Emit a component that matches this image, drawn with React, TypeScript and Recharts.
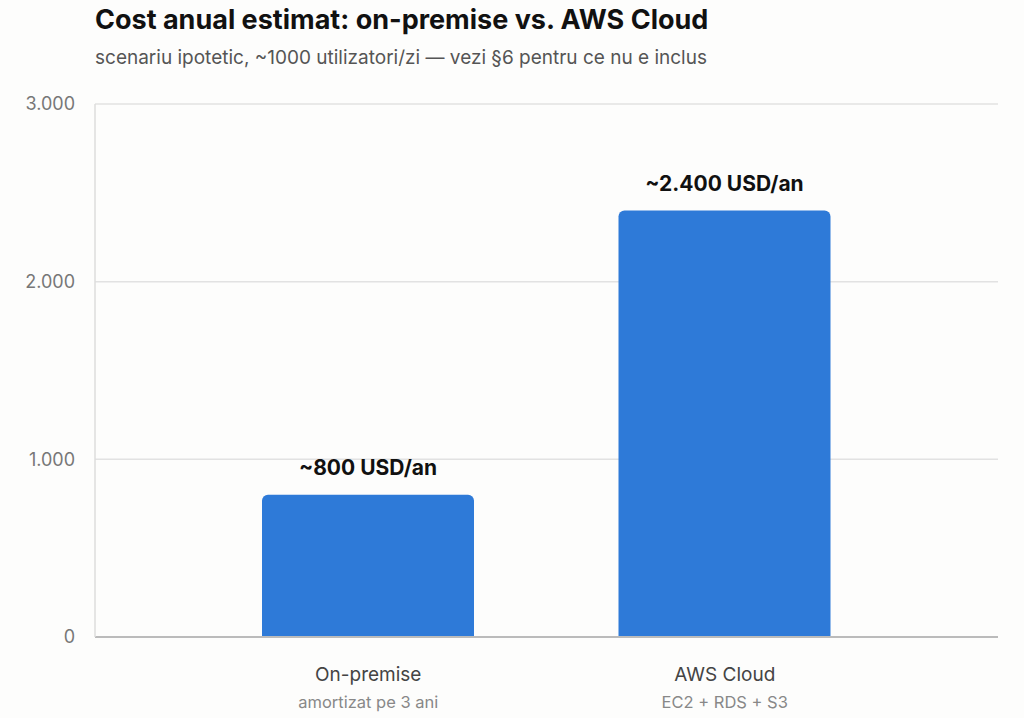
import React from 'react';
import { BarChart, Bar, XAxis, YAxis, CartesianGrid, LabelList } from 'recharts';

const categories = ['On-premise', 'AWS Cloud'];
const subLabels = ['amortizat pe 3 ani', 'EC2 + RDS + S3'];
const costs = [800, 2400];
const valueLabels = ['~800 USD/an', '~2.400 USD/an'];
const yTicks = [0, 1000, 2000, 3000];

const data = categories.map((c, i) => ({ name: c, sub: subLabels[i], cost: costs[i], label: valueLabels[i] }));

const font = 'Inter, "Noto Sans", sans-serif';

const Tick = (props: any) => {
  const { x, y, payload, index } = props;
  return (
    <g>
      <text x={x} y={y + 36} textAnchor="middle" fontSize={19} fill="#444" fontFamily={font}>{payload.value}</text>
      <text x={x} y={y + 63} textAnchor="middle" fontSize={16.5} fill="#888" fontFamily={font}>{subLabels[index]}</text>
    </g>
  );
};

export default function App() {
  return (
    <div style={{ position: 'absolute', left: 0, top: 0, width: 1024, height: 718, background: '#fdfdfc', fontFamily: font }}>
      <div style={{ position: 'absolute', left: 95, top: 3, fontSize: 27, fontWeight: 700, color: '#111' }}>Cost anual estimat: on-premise vs. AWS Cloud</div>
      <div style={{ position: 'absolute', left: 95, top: 46, fontSize: 19, color: '#555' }}>scenariu ipotetic, ~1000 utilizatori/zi — vezi §6 pentru ce nu e inclus</div>
      <BarChart width={1024} height={718} data={data} margin={{ top: 104, right: 26, bottom: 51, left: 0 }}>
        <CartesianGrid vertical={false} stroke="#e2e2e2" strokeWidth={1.5} />
        <XAxis dataKey="name" tick={<Tick />} tickLine={false} axisLine={{ stroke: '#bbb', strokeWidth: 2 }} padding={{ left: 95, right: 95 }} interval={0} height={30} />
        <YAxis width={95} domain={[0, 3000]} ticks={yTicks} tickFormatter={(v: number) => v === 0 ? '0' : v.toLocaleString('de-DE')} tick={{ fontSize: 18, fill: '#777', fontFamily: font }} tickLine={false} axisLine={{ stroke: '#ddd', strokeWidth: 1.5 }} tickMargin={14} />
        <Bar dataKey="cost" fill="#2e7ad8" barSize={212} radius={[6, 6, 0, 0]} isAnimationActive={false}>
          <LabelList dataKey="label" position="top" offset={20} style={{ fontSize: 21, fontWeight: 700, fill: '#111', fontFamily: font }} />
        </Bar>
      </BarChart>
    </div>
  );
}
